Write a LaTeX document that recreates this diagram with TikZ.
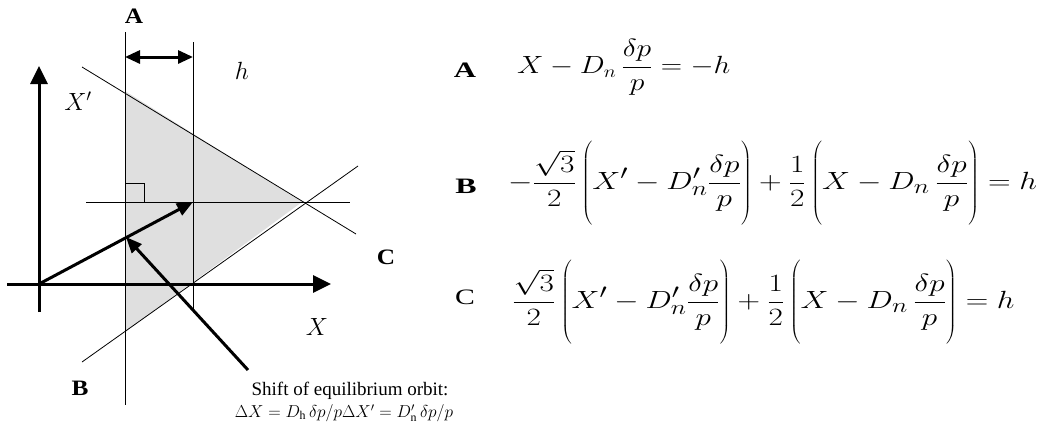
\documentclass[tikz,border=0pt]{standalone}
\usepackage{fontspec}
\setmainfont{Liberation Serif}
\usetikzlibrary{arrows.meta}
\newcommand{\wide}[2]{\scalebox{#1}[1]{#2}}
\newcommand{\tallrule}{\rule[-36pt]{0pt}{52pt}}
\begin{document}
\begin{tikzpicture}[x=1pt,y=-1pt,
  thinline/.style={line width=0.8pt},
  axis/.style={line width=3pt,-{Triangle[length=18pt,width=17pt]}},
  vec/.style={line width=3pt,-{Triangle[length=16pt,width=13pt]}},
  lbl/.style={font=\fontsize{22}{26}\selectfont\bfseries,inner sep=0pt},
  var/.style={font=\fontsize{24}{28}\selectfont,inner sep=0pt},
  eqA/.style={font=\fontsize{23}{27}\selectfont,inner sep=0pt,anchor=base west},
  eqBC/.style={font=\fontsize{32}{38}\selectfont,inner sep=0pt,anchor=base west},
  note/.style={font=\fontsize{19}{22}\selectfont,inner sep=0pt},
  notemath/.style={font=\fontsize{17}{20}\selectfont,inner sep=0pt}]
\useasboundingbox (0,0) rectangle (1043,445);
% shaded region
\coordinate (T1) at (125,91);
\coordinate (P) at (302,202);
\coordinate (T2) at (125,332);
\fill[gray!25] (T1) -- (P) -- (T2) -- cycle;
% lines
\coordinate (U1) at (82,67);  \coordinate (U2) at (356,234);
\coordinate (L1) at (82,362); \coordinate (L2) at (358,166);
\draw[thinline] (U1) -- (U2);
\draw[thinline] (L1) -- (L2);
\coordinate (A1) at (125,32); \coordinate (A2) at (125,405);
\coordinate (V1) at (193,42); \coordinate (V2) at (193,310);
\draw[thinline] (A1) -- (A2);
\draw[thinline] (V1) -- (V2);
\coordinate (H1) at (86,202); \coordinate (H2) at (350,202);
\draw[thinline] (H1) -- (H2);
\draw[thinline] (125,183) -- (144,183) -- (144,202);
% axes
\coordinate (O) at (39,284);
\coordinate (XL) at (7,284); \coordinate (XR) at (331,284);
\coordinate (YB) at (39,312); \coordinate (YT) at (39,66);
\draw[axis] (XL) -- (XR);
\draw[axis] (YB) -- (YT);
% width arrow
\coordinate (W1) at (125,57); \coordinate (W2) at (193,57);
\draw[line width=3pt,{Triangle[length=15pt,width=13pt]}-{Triangle[length=15pt,width=13pt]}] (W1) -- (W2);
% vectors
\coordinate (Q) at (193,202);
\draw[vec] (O) -- (Q);
\coordinate (S1) at (248,370); \coordinate (S2) at (126,237);
\draw[vec] (S1) -- (S2);
% labels
\node[lbl] (lA) at (134,16) {\wide{1.15}{A}};
\node[lbl] (lB) at (80,388) {\wide{1.15}{B}};
\node[lbl] (lC) at (386,257) {\wide{1.15}{C}};
\node[var] (lh) at (242,71) {$h$};
\node[var] (lXp) at (78,101) {$X'$};
\node[var] (lX) at (317,327) {$X$};
\node[note] (n1) at (350,391) {Shift of equilibrium orbit:};
\node[notemath] (n2) at (344,413) {$\Delta X = D_{\mathrm{h}}\,\delta p/p\Delta X' = D'_{\mathrm{n}}\,\delta p/p$};
% equations
\node[lbl] (eA) at (465,70) {\wide{1.4}{A}};
\node[eqA] (fA) at (517,73.75) {\wide{1.19}{$\displaystyle X - D_n\,\frac{\delta p}{p} = -h$}};
\node[lbl] (eB) at (466,186) {\wide{1.45}{B}};
\node[eqBC] (fB) at (508,189.5) {\wide{1.26}{$\displaystyle -\frac{\sqrt{3}}{2}\left(\tallrule X' - D'_n\frac{\delta p}{p}\right) + \frac{1}{2}\left(\tallrule X - D_n\,\frac{\delta p}{p}\right) = h$}};
\node[lbl,font=\fontsize{22}{26}\selectfont] (eC) at (465,297) {\wide{1.35}{C}};
\node[eqBC] (fC) at (512,308.5) {\wide{1.255}{$\displaystyle \frac{\sqrt{3}}{2}\left(\tallrule X' - D'_n\frac{\delta p}{p}\right) + \frac{1}{2}\left(\tallrule X - D_n\,\frac{\delta p}{p}\right) = h$}};
\end{tikzpicture}
\end{document}
